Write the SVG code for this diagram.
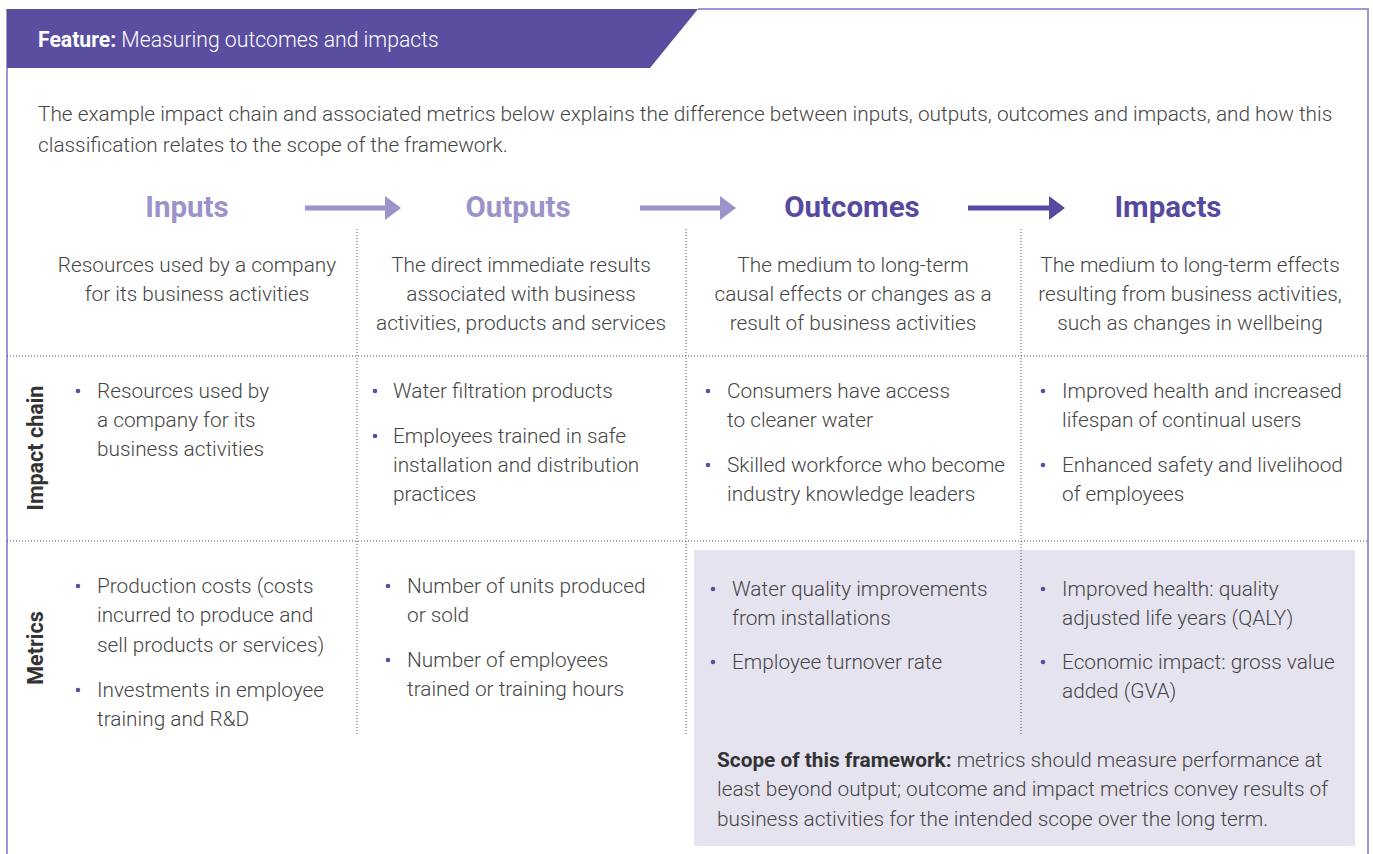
<svg xmlns="http://www.w3.org/2000/svg" width="1373" height="854" viewBox="0 0 1373 854">
<style>
text{font-family:Roboto,"Liberation Sans",sans-serif;}
.b{font-size:20.8px;font-weight:300;fill:#454545;}
.c{text-anchor:middle;}
.h{font-size:29.5px;font-weight:700;text-anchor:middle;}
.lt{fill:#9c93ca;}
.dk{fill:#564aa0;}
.side{font-size:21.5px;font-weight:700;fill:#333;text-anchor:middle;}
.dot{fill:#5a4ea0;}
.dv{stroke:#555;stroke-width:1;stroke-dasharray:1 2;fill:none;}
</style>
<defs>
<marker id="ah" viewBox="0 0 10 10" refX="0" refY="5" markerWidth="16" markerHeight="24" markerUnits="userSpaceOnUse" orient="auto" preserveAspectRatio="none"><path d="M0,0L10,5L0,10Z" fill="context-stroke"/></marker>
</defs>
<rect width="1373" height="854" fill="#fff"/>
<g id="frame">
<path d="M7,9V854M698,9H1368V854" stroke="#9e96d2" stroke-width="2" fill="none"/>
<polygon points="7,9 698,9 650,68 7,68" fill="#5a4ea0"/>
<text x="38" y="47" font-size="21.2" fill="#fff"><tspan font-weight="700">Feature:</tspan><tspan font-weight="300"> Measuring outcomes and impacts</tspan></text>
</g>
<g id="intro">
<text class="b" x="38" y="121">The example impact chain and associated metrics below explains the difference between inputs, outputs, outcomes and impacts, and how this</text>
<text class="b" x="38" y="152">classification relates to the scope of the framework.</text>
</g>
<rect id="scope-bg" x="694" y="550" width="661" height="296" fill="#e5e3f0"/>
<g id="grid">
<path class="dv" d="M7,356H1368M7,541H1368"/>
<path class="dv" d="M357,229V735M686,229V735M1021,229V735"/>
</g>
<g id="connectors">
<line x1="305" y1="208" x2="385" y2="208" stroke="#9c93ca" stroke-width="5" marker-end="url(#ah)"/>
<line x1="640" y1="208" x2="720" y2="208" stroke="#9c93ca" stroke-width="5" marker-end="url(#ah)"/>
<line x1="968" y1="208" x2="1049" y2="208" stroke="#564aa0" stroke-width="5" marker-end="url(#ah)"/>
</g>
<g id="inputs">
<text class="h lt" x="187" y="217">Inputs</text>
<text class="b c" x="197" y="272">Resources used by a company</text>
<text class="b c" x="197" y="301">for its business activities</text>
</g>
<g id="outputs">
<text class="h lt" x="518" y="217">Outputs</text>
<text class="b c" x="521" y="272">The direct immediate results</text>
<text class="b c" x="521" y="301">associated with business</text>
<text class="b c" x="521" y="330">activities, products and services</text>
</g>
<g id="outcomes">
<text class="h dk" x="852" y="217">Outcomes</text>
<text class="b c" x="853" y="272">The medium to long-term</text>
<text class="b c" x="853" y="301">causal effects or changes as a</text>
<text class="b c" x="853" y="330">result of business activities</text>
</g>
<g id="impacts">
<text class="h dk" x="1168" y="217">Impacts</text>
<text class="b c" x="1190" y="272">The medium to long-term effects</text>
<text class="b c" x="1190" y="301">resulting from business activities,</text>
<text class="b c" x="1190" y="330">such as changes in wellbeing</text>
</g>
<g id="row-labels">
<text class="side" transform="translate(43,448) rotate(-90)">Impact chain</text>
<text class="side" transform="translate(43,648) rotate(-90)">Metrics</text>
</g>
<g id="impact-chain">
<circle class="dot" cx="78" cy="391" r="2.3"/>
<text class="b" x="97" y="398">Resources used by</text>
<text class="b" x="97" y="427">a company for its</text>
<text class="b" x="97" y="456">business activities</text>
<circle class="dot" cx="375" cy="391" r="2.3"/>
<text class="b" x="393" y="398">Water filtration products</text>
<circle class="dot" cx="375" cy="436" r="2.3"/>
<text class="b" x="393" y="443">Employees trained in safe</text>
<text class="b" x="393" y="472">installation and distribution</text>
<text class="b" x="393" y="501">practices</text>
<circle class="dot" cx="708" cy="391" r="2.3"/>
<text class="b" x="727" y="398">Consumers have access</text>
<text class="b" x="727" y="427">to cleaner water</text>
<circle class="dot" cx="708" cy="465" r="2.3"/>
<text class="b" x="727" y="472">Skilled workforce who become</text>
<text class="b" x="727" y="501">industry knowledge leaders</text>
<circle class="dot" cx="1043" cy="391" r="2.3"/>
<text class="b" x="1062" y="398">Improved health and increased</text>
<text class="b" x="1062" y="427">lifespan of continual users</text>
<circle class="dot" cx="1043" cy="465" r="2.3"/>
<text class="b" x="1062" y="472">Enhanced safety and livelihood</text>
<text class="b" x="1062" y="501">of employees</text>
</g>
<g id="metrics">
<circle class="dot" cx="78" cy="586" r="2.3"/>
<text class="b" x="97" y="593">Production costs (costs</text>
<text class="b" x="97" y="622">incurred to produce and</text>
<text class="b" x="97" y="652">sell products or services)</text>
<circle class="dot" cx="78" cy="690" r="2.3"/>
<text class="b" x="97" y="697">Investments in employee</text>
<text class="b" x="97" y="726">training and R&amp;D</text>
<circle class="dot" cx="388" cy="586" r="2.3"/>
<text class="b" x="407" y="593">Number of units produced</text>
<text class="b" x="407" y="622">or sold</text>
<circle class="dot" cx="388" cy="660" r="2.3"/>
<text class="b" x="407" y="667">Number of employees</text>
<text class="b" x="407" y="696">trained or training hours</text>
<circle class="dot" cx="713" cy="589" r="2.3"/>
<text class="b" x="732" y="596">Water quality improvements</text>
<text class="b" x="732" y="625">from installations</text>
<circle class="dot" cx="713" cy="662" r="2.3"/>
<text class="b" x="732" y="669">Employee turnover rate</text>
<circle class="dot" cx="1043" cy="589" r="2.3"/>
<text class="b" x="1062" y="596">Improved health: quality</text>
<text class="b" x="1062" y="625">adjusted life years (QALY)</text>
<circle class="dot" cx="1043" cy="662" r="2.3"/>
<text class="b" x="1062" y="669">Economic impact: gross value</text>
<text class="b" x="1062" y="698">added (GVA)</text>
</g>
<g id="scope">
<text class="b" x="717" y="767"><tspan font-weight="700" fill="#333">Scope of this framework:</tspan> metrics should measure performance at</text>
<text class="b" x="717" y="796">least beyond output; outcome and impact metrics convey results of</text>
<text class="b" x="717" y="826">business activities for the intended scope over the long term.</text>
</g>
</svg>
